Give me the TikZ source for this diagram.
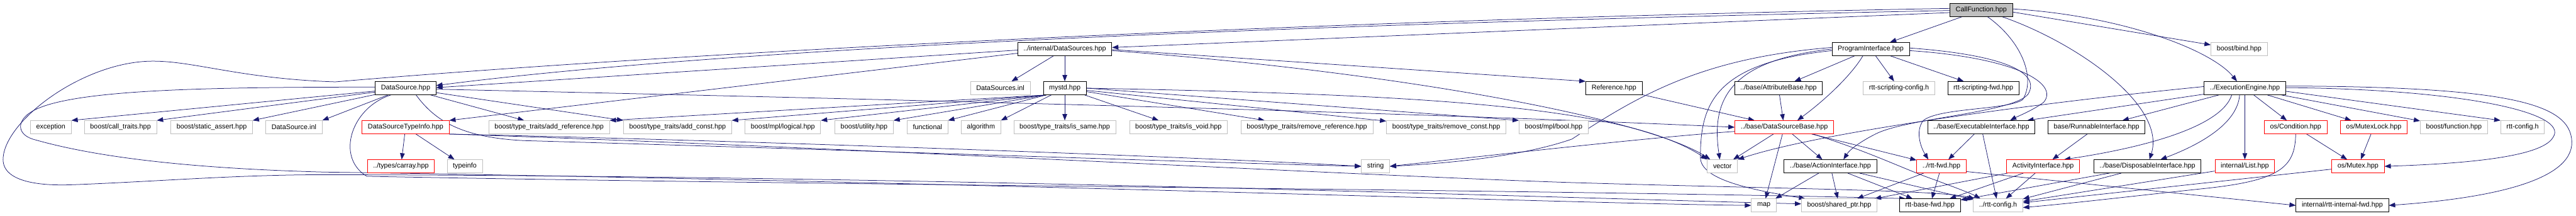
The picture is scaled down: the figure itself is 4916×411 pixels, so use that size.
\documentclass[tikz,border=0pt]{standalone}
\usepackage{fontspec}
\setmainfont{Liberation Sans}
\usetikzlibrary{arrows.meta,backgrounds}
\definecolor{edgeblue}{HTML}{191970}
\definecolor{extgray}{HTML}{BFBFBF}
\definecolor{cutred}{HTML}{FF0000}

\begin{document}
\begin{tikzpicture}[
    x=1pt, y=-1pt,
    hfile/.style={rectangle, draw=black, line width=1pt, fill=white, minimum height=25pt, inner xsep=11pt, inner ysep=2pt, font=\fontsize{13}{15}\selectfont},
    sysfile/.style={hfile, draw=extgray},
    cutfile/.style={hfile, draw=cutred},
    rootfile/.style={hfile, fill=extgray},
    arrow/.style={-{Triangle[length=12pt,width=9pt]}, color=edgeblue, line width=0.9pt}
]
\useasboundingbox (0,0) rectangle (4916,411);

% row 0 and 1
\node[rootfile] (cf) at (3781,19) {CallFunction.hpp};
\node[hfile] (dss) at (2032,93.5) {../internal/DataSources.hpp};
\node[hfile] (pi) at (3570,93.5) {ProgramInterface.hpp};
\node[sysfile] (bind) at (4273,93.5) {boost/bind.hpp};

% row 2
\node[hfile] (ds) at (774,168) {DataSource.hpp};
\node[sysfile] (dssinl) at (1909,168) {DataSources.inl};
\node[hfile] (mystd) at (2032,168) {mystd.hpp};
\node[hfile] (ref) at (3080,168) {Reference.hpp};
\node[hfile] (attr) at (3394,168) {../base/AttributeBase.hpp};
\node[sysfile] (scfg) at (3624,168) {rtt-scripting-config.h};
\node[hfile] (sfwd) at (3785,168) {rtt-scripting-fwd.hpp};
\node[hfile] (ee) at (4284,168) {../ExecutionEngine.hpp};

% row 3
\node[sysfile] (exception) at (97,242.5) {exception};
\node[sysfile] (calltraits) at (230,242.5) {boost/call\_traits.hpp};
\node[sysfile] (staticassert) at (404,242.5) {boost/static\_assert.hpp};
\node[sysfile] (dsinl) at (561,242.5) {DataSource.inl};
\node[cutfile] (dsti) at (774,242.5) {DataSourceTypeInfo.hpp};
\node[sysfile] (addref) at (1048,242.5) {boost/type\_traits/add\_reference.hpp};
\node[sysfile] (addconst) at (1293,242.5) {boost/type\_traits/add\_const.hpp};
\node[sysfile] (logical) at (1494,242.5) {boost/mpl/logical.hpp};
\node[sysfile] (utility) at (1649,242.5) {boost/utility.hpp};
\node[sysfile] (functional) at (1770,242.5) {functional};
\node[sysfile] (algorithm) at (1872,242.5) {algorithm};
\node[sysfile] (issame) at (2032,242.5) {boost/type\_traits/is\_same.hpp};
\node[sysfile] (isvoid) at (2249,242.5) {boost/type\_traits/is\_void.hpp};
\node[sysfile] (remref) at (2494,242.5) {boost/type\_traits/remove\_reference.hpp};
\node[sysfile] (remconst) at (2760,242.5) {boost/type\_traits/remove\_const.hpp};
\node[sysfile] (mplbool) at (2965,242.5) {boost/mpl/bool.hpp};
\node[cutfile] (dsbase) at (3405,242.5) {../base/DataSourceBase.hpp};
\node[hfile] (exec) at (3781,242.5) {../base/ExecutableInterface.hpp};
\node[hfile] (runnable) at (4001,242.5) {base/RunnableInterface.hpp};
\node[cutfile] (cond) at (4381,242.5) {os/Condition.hpp};
\node[cutfile] (mlock) at (4530,242.5) {os/MutexLock.hpp};
\node[sysfile] (bfunc) at (4683,242.5) {boost/function.hpp};
\node[sysfile] (rcfg) at (4814,242.5) {rtt-config.h};

% row 4
\node[cutfile] (carray) at (765,317) {../types/carray.hpp};
\node[sysfile] (typeinfo) at (887,317) {typeinfo};
\node[sysfile] (string) at (2625,317) {string};
\node[sysfile] (vector) at (3287,317) {vector};
\node[hfile] (action) at (3493,317) {../base/ActionInterface.hpp};
\node[cutfile] (rttfwd) at (3705,317) {../rtt-fwd.hpp};
\node[cutfile] (activity) at (3899,317) {ActivityInterface.hpp};
\node[hfile] (disp) at (4098,317) {../base/DisposableInterface.hpp};
\node[cutfile] (list) at (4284,317) {internal/List.hpp};
\node[cutfile] (mutex) at (4500,317) {os/Mutex.hpp};

% row 5
\node[sysfile] (map) at (3366,391.5) {map};
\node[sysfile] (shptr) at (3510,391.5) {boost/shared\_ptr.hpp};
\node[hfile] (basefwd) at (3683,391.5) {rtt-base-fwd.hpp};
\node[sysfile] (rttcfg) at (3813,391.5) {../rtt-config.h};
\node[hfile] (ifwd) at (4470,391.5) {internal/rtt-internal-fwd.hpp};

\begin{scope}[on background layer]
\fill[white] (0,0) rectangle (4916,411);

% CallFunction.hpp
\draw[arrow] ([yshift=-1pt]cf.west) .. controls (2500,45) and (1400,90) .. ([yshift=5pt]ds.east);
\draw[arrow] ([yshift=-5pt]cf.west) -- ([yshift=3pt]dss.east);
\draw[arrow] ([yshift=3pt]cf.west) .. controls (2500,38) and (1300,100) .. (640,156)
    .. controls (450,150) and (360,112) .. (277,117) .. controls (150,125) and (12,230) .. (6,300)
    .. controls (2,345) and (70,355) .. (140,352) .. controls (300,346) and (450,333) .. (620,333)
    .. controls (1800,335) and (3000,378) .. ([yshift=3pt]shptr.west);
\draw[arrow] (cf) -- (pi);
\draw[arrow] ([yshift=-4pt]cf.east) -- ([yshift=8pt]bind.west);
\draw[arrow] ([yshift=2pt]cf.east) .. controls (4050,30) and (4220,95) .. ([xshift=-15pt]ee.north);
\draw[arrow] ([xshift=12pt]cf.south) .. controls (3860,80) and (3885,150) .. (3860,190)
    .. controls (3830,210) and (3700,205) .. (3670,230) .. controls (3655,250) and (3665,280) .. ([xshift=-25pt]rttfwd.north);
\draw[arrow] ([xshift=40pt]cf.south) .. controls (3960,80) and (4135,200) .. ([xshift=4pt]disp.north);

% ProgramInterface.hpp
\draw[arrow] (pi) -- (attr);
\draw[arrow] (pi) -- (scfg);
\draw[arrow] (pi) -- (sfwd);
\draw[arrow] ([xshift=-15pt]pi.south) .. controls (3535,140) and (3490,185) .. ([xshift=25pt]dsbase.north);
\draw[arrow] ([yshift=-3pt]pi.east) .. controls (3850,110) and (3930,160) .. (3900,195)
    .. controls (3880,210) and (3850,222) .. ([xshift=55pt]exec.north);
\draw[arrow] ([yshift=2pt]pi.east) .. controls (3830,105) and (3895,140) .. (3870,180)
    .. controls (3840,215) and (3640,225) .. (3580,255) .. controls (3550,270) and (3530,285) .. ([xshift=25pt]action.north);
\draw[arrow] ([yshift=3pt]pi.west) .. controls (3250,110) and (3130,180) .. (3000,265)
    .. controls (2900,300) and (2750,312) .. (string.east);
\draw[arrow] (pi.west) .. controls (3300,115) and (3265,190) .. ([xshift=-5pt]vector.north);
\draw[arrow] ([yshift=-3pt]pi.west) .. controls (3270,120) and (3245,200) .. (3245,300)
    .. controls (3245,340) and (3330,360) .. ([xshift=-65pt]shptr.north);

% DataSources.hpp
\draw[arrow] ([yshift=-2pt]dss.west) -- ([yshift=1pt]ds.east);
\draw[arrow] ([yshift=-8pt]dss.west) -- (dsti.north east);
\draw[arrow] (dss) -- (dssinl);
\draw[arrow] (dss) -- (mystd);
\draw[arrow] ([yshift=-1pt]dss.east) -- (ref.north west);
\draw[arrow] ([yshift=-3pt]dss.east) .. controls (2700,140) and (3150,230) .. ([xshift=6pt]vector.north west);

% DataSource.hpp
\draw[arrow] (ds) -- (exception.north east);
\draw[arrow] (ds) -- (calltraits.north east);
\draw[arrow] (ds) -- (staticassert.north east);
\draw[arrow] (ds) -- (dsinl.north east);
\draw[arrow] (ds) -- (addref);
\draw[arrow] (ds) -- (addconst.north west);
\draw[arrow] ([yshift=-2pt]ds.east) .. controls (1500,185) and (2600,210) .. (dsbase.west);
\draw[arrow] ([xshift=20pt]ds.south) .. controls (830,230) and (880,262) .. (1000,268)
    .. controls (1600,285) and (2300,310) .. (string.west);
\draw[arrow] ([yshift=2pt]ds.west) .. controls (400,166) and (130,170) .. (60,213)
    .. controls (32,230) and (32,255) .. (62,265) .. controls (200,305) and (400,322) .. (620,328)
    .. controls (1800,345) and (3000,388) .. (map.west);
\draw[arrow] ([xshift=-28pt]ds.south) .. controls (670,205) and (640,300) .. (700,336)
    .. controls (1500,352) and (3000,362) .. ([xshift=12pt]basefwd.north west);

% DataSourceTypeInfo.hpp
\draw[arrow] (dsti) -- (carray);
\draw[arrow] (dsti) -- (typeinfo);
\draw[arrow] (dsti.south east) .. controls (1500,270) and (2300,300) .. (string.west);
\draw[arrow] (dsti.south east) .. controls (1600,280) and (2600,335) .. (3000,348)
    .. controls (3400,360) and (3700,362) .. ([xshift=3pt]rttcfg.north west);

% mystd.hpp
\draw[arrow] ([xshift=6pt]mystd.south west) -- (addref.north east);
\draw[arrow] ([xshift=6pt]mystd.south west) -- (addconst.north east);
\draw[arrow] ([xshift=6pt]mystd.south west) -- (logical.north east);
\draw[arrow] ([xshift=6pt]mystd.south west) -- (utility.north east);
\draw[arrow] ([xshift=6pt]mystd.south west) -- (functional.north east);
\draw[arrow] (mystd) -- (algorithm.north east);
\draw[arrow] (mystd) -- (issame);
\draw[arrow] (mystd) -- (isvoid);
\draw[arrow] (mystd) -- (remref);
\draw[arrow] (mystd) -- (remconst);
\draw[arrow] (mystd.east) -- (mplbool.north west);
\draw[arrow] (mystd.east) .. controls (2700,180) and (3100,200) .. (vector.north west);

% base headers
\draw[arrow] (ref) -- (dsbase);
\draw[arrow] (attr) -- (dsbase);
\draw[arrow] (dsbase) -- (vector);
\draw[arrow] (dsbase) -- (map);
\draw[arrow] (dsbase) -- (action);
\draw[arrow] (dsbase) -- (rttfwd);
\draw[arrow] ([xshift=55pt]dsbase.south) .. controls (3570,290) and (3640,325) .. (3690,342)
    .. controls (3725,355) and (3760,368) .. ([xshift=14pt]rttcfg.north west);
\draw[arrow] ([yshift=-8pt]dsbase.west) .. controls (3150,262) and (2900,290) .. (string.east);
\draw[arrow] (action) -- (map);
\draw[arrow] (action) -- (shptr);
\draw[arrow] (action) -- (basefwd);
\draw[arrow] (action) -- (rttcfg);
\draw[arrow] (rttfwd) -- (shptr);
\draw[arrow] (rttfwd) -- (basefwd);
\draw[arrow] ([yshift=3pt]rttfwd.south east) -- (ifwd.west);
\draw[arrow] (exec) -- (rttfwd);
\draw[arrow] (exec) -- (rttcfg);
\draw[arrow] (runnable) -- (activity);
\draw[arrow] (activity) -- (shptr);
\draw[arrow] (activity) -- (basefwd);
\draw[arrow] (activity) -- (rttcfg);
\draw[arrow] (disp) -- (rttcfg);
\draw[arrow] (disp) -- (basefwd);

% ExecutionEngine.hpp
\draw[arrow] ([yshift=3pt]ee.west) .. controls (3900,195) and (3480,250) .. (vector.north east);
\draw[arrow] (ee) -- (exec);
\draw[arrow] (ee) -- (runnable);
\draw[arrow] ([xshift=-25pt]ee.south) .. controls (4240,240) and (4100,280) .. ([xshift=40pt]activity.north);
\draw[arrow] ([xshift=-10pt]ee.south) .. controls (4270,235) and (4200,275) .. ([xshift=25pt]disp.north);
\draw[arrow] (ee) -- (list);
\draw[arrow] (ee) -- (cond);
\draw[arrow] (ee) -- (mlock);
\draw[arrow] (ee) -- (bfunc);
\draw[arrow] ([yshift=-6pt]ee.east) -- (rcfg.north west);
\draw[arrow] ([yshift=1pt]ee.east) .. controls (4700,170) and (4905,215) .. (4872,262)
    .. controls (4850,300) and (4700,312) .. (mutex.east);
\draw[arrow] ([yshift=4pt]ee.east) .. controls (4800,165) and (4905,200) .. (4908,270)
    .. controls (4910,345) and (4750,378) .. (ifwd.east);

% os and internal
\draw[arrow] (cond) -- (mutex);
\draw[arrow] (mlock) -- (mutex);
\draw[arrow] (cond.south) .. controls (4380,320) and (4350,345) .. (4200,360)
    .. controls (4050,376) and (3950,388) .. ([yshift=-4pt]rttcfg.east);
\draw[arrow] (list) -- (rttcfg);
\draw[arrow] (mutex) -- (rttcfg);
\end{scope}
\end{tikzpicture}
\end{document}
